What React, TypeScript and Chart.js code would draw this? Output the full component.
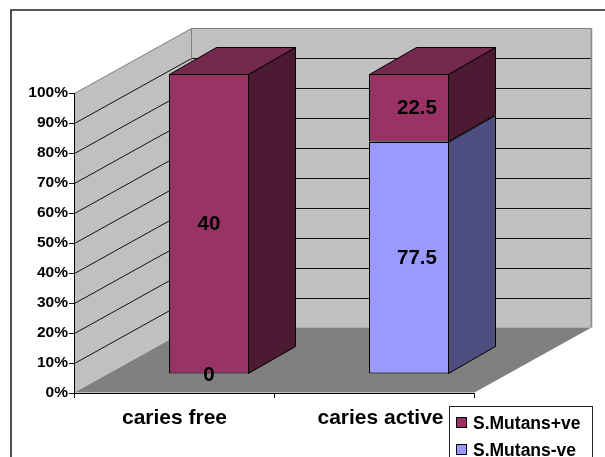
import React, { useEffect, useRef } from "react";
import { Chart, registerables } from "chart.js";

Chart.register(...registerables);

const categories = ["caries free", "caries active"];
const mutansPositive = [40, 22.5];
const mutansNegative = [0, 77.5];
const percentTicks = [0, 10, 20, 30, 40, 50, 60, 70, 80, 90, 100];

const FONT = '"Liberation Sans", Arial, sans-serif';
const INK = "#000000";

// Stacked shares per category, as in a 100% stacked column chart.
const shareOf = (part: number[], other: number[]) =>
  part.map((v, i) => (v / (v + other[i])) * 100);

// Projection of the pseudo-3D box.
const WALL = { dx: 117, dy: -65 };
const BAR_PLANE = { dx: 35, dy: -19 };
const BAR_DEPTH = { dx: 47, dy: -27 };
const CATEGORY_LABEL_SHIFT = [0, 6];
const VALUE_LABEL_SHIFT = [0, 8];

const poly = (
  ctx: CanvasRenderingContext2D,
  pts: number[][],
  fill: string | null,
  stroke: string | null,
  width = 1
) => {
  ctx.beginPath();
  pts.forEach(([x, y], i) => (i ? ctx.lineTo(x, y) : ctx.moveTo(x, y)));
  ctx.closePath();
  if (fill) {
    ctx.fillStyle = fill;
    ctx.fill();
  }
  if (stroke) {
    ctx.strokeStyle = stroke;
    ctx.lineWidth = width;
    ctx.stroke();
  }
};

const segment = (
  ctx: CanvasRenderingContext2D,
  x1: number,
  y1: number,
  x2: number,
  y2: number,
  color: string,
  width = 1
) => {
  ctx.beginPath();
  ctx.moveTo(x1, y1);
  ctx.lineTo(x2, y2);
  ctx.strokeStyle = color;
  ctx.lineWidth = width;
  ctx.stroke();
};

const box3d = {
  id: "box3d",
  beforeDraw(chart: any) {
    const { ctx, chartArea: a, scales } = chart;
    const L = a.left + 0.5;
    const R = a.right + 0.5;
    const T = a.top + 0.5;
    const B = a.bottom - 0.5;
    const bx = L + WALL.dx;
    const rx = R + WALL.dx;
    ctx.save();
    ctx.fillStyle = "#ffffff";
    ctx.fillRect(0, 0, chart.width, chart.height);

    // Frame of the chart object; it runs off the right and bottom edges.
    ctx.beginPath();
    ctx.moveTo(11, chart.height);
    ctx.lineTo(11, 10);
    ctx.lineTo(chart.width, 10);
    ctx.strokeStyle = "#222222";
    ctx.lineWidth = 1.6;
    ctx.stroke();

    // Side wall, back wall and floor.
    poly(ctx, [[L, T], [bx, T + WALL.dy], [bx, B + WALL.dy], [L, B]], "#c0c0c0", null);
    poly(ctx, [[bx, T + WALL.dy], [rx, T + WALL.dy], [rx, B + WALL.dy], [bx, B + WALL.dy]], "#c0c0c0", null);
    poly(ctx, [[L, B], [R, B], [rx, B + WALL.dy], [bx, B + WALL.dy]], "#808080", null);

    // Gridlines folded across both walls.
    percentTicks.forEach((t) => {
      if (t === 0 || t === 100) return;
      const y = Math.round(scales.y.getPixelForValue(t)) + 0.5;
      segment(ctx, L, y, bx, y + WALL.dy, "#111111");
      segment(ctx, bx, y + WALL.dy, rx, y + WALL.dy, "#111111");
    });

    // Wall outlines.
    ctx.beginPath();
    ctx.moveTo(L, T);
    ctx.lineTo(bx, T + WALL.dy);
    ctx.lineTo(rx, T + WALL.dy);
    ctx.strokeStyle = "#808080";
    ctx.lineWidth = 1;
    ctx.stroke();
    segment(ctx, rx, T + WALL.dy, rx, B + WALL.dy, "#8c8c8c", 1.6);
    segment(ctx, bx, T + WALL.dy, bx, B + WALL.dy, "#808080");
    ctx.restore();
  },
  beforeDatasetsDraw(chart: any) {
    chart.ctx.save();
    chart.ctx.translate(BAR_PLANE.dx, BAR_PLANE.dy);
  },
  afterDatasetsDraw(chart: any) {
    const { ctx, data } = chart;
    const shades = [
      { side: "#4d4d80", top: "#73739f" },
      { side: "#4d1a33", top: "#73284d" },
    ];
    const tops: any[] = [];
    data.datasets.forEach((_: any, d: number) => {
      chart.getDatasetMeta(d).data.forEach((bar: any, i: number) => {
        const { x, y, base, width } = bar.getProps(["x", "y", "base", "width"], true);
        if (Math.abs(base - y) < 0.5) return;
        const xr = x + width / 2 - 0.5;
        const xl = x - width / 2 + 0.5;
        const yt = Math.round(y) + 0.5;
        const yb = Math.round(base) - 0.5;
        poly(
          ctx,
          [
            [xr, yt],
            [xr + BAR_DEPTH.dx, yt + BAR_DEPTH.dy],
            [xr + BAR_DEPTH.dx, yb + BAR_DEPTH.dy],
            [xr, yb],
          ],
          shades[d].side,
          INK
        );
        // Crisp seam between stacked segments on the front face.
        segment(ctx, xl, yt, xr, yt, INK);
        tops[i] = { xl, xr, yt, shade: shades[d].top };
      });
    });
    tops.forEach(({ xl, xr, yt, shade }) =>
      poly(
        ctx,
        [
          [xl, yt],
          [xr, yt],
          [xr + BAR_DEPTH.dx, yt + BAR_DEPTH.dy],
          [xl + BAR_DEPTH.dx, yt + BAR_DEPTH.dy],
        ],
        shade,
        INK
      )
    );

    // Value labels sit on the bar fronts and state the original counts.
    ctx.fillStyle = INK;
    ctx.font = `bold 20.5px ${FONT}`;
    ctx.textAlign = "center";
    ctx.textBaseline = "middle";
    data.datasets.forEach((ds: any, d: number) => {
      chart.getDatasetMeta(d).data.forEach((bar: any, i: number) => {
        const { x, y, base } = bar.getProps(["x", "y", "base"], true);
        ctx.fillText(String(ds.counts[i]), x + VALUE_LABEL_SHIFT[i], (y + base) / 2 + 1);
      });
    });
    ctx.restore();
  },
  afterDraw(chart: any) {
    const { ctx, data, scales } = chart;
    ctx.save();

    // Category names under the floor.
    ctx.fillStyle = INK;
    ctx.font = `bold 21px ${FONT}`;
    ctx.textAlign = "center";
    ctx.textBaseline = "middle";
    categories.forEach((c, i) => {
      ctx.fillText(c, scales.x.getPixelForValue(i) + CATEGORY_LABEL_SHIFT[i] + 0.5, 418);
    });

    // Legend box, clipped by the bottom edge of the page.
    ctx.fillStyle = "#ffffff";
    ctx.fillRect(450, 407, 142, 60);
    ctx.strokeStyle = "#222222";
    ctx.lineWidth = 1;
    ctx.strokeRect(449.5, 406.5, 143, 60);
    [...data.datasets].reverse().forEach((ds: any, i: number) => {
      const top = 417 + i * 27;
      ctx.fillStyle = ds.backgroundColor;
      ctx.fillRect(456, top, 11, 11);
      ctx.strokeStyle = INK;
      ctx.strokeRect(456.5, top + 0.5, 10, 10);
      ctx.fillStyle = INK;
      ctx.font = `bold 17.5px ${FONT}`;
      ctx.textAlign = "left";
      ctx.textBaseline = "middle";
      ctx.fillText(ds.label, 473, top + 7.5);
    });
    ctx.restore();
  },
};

export default function App() {
  const ref = useRef<HTMLCanvasElement>(null);

  useEffect(() => {
    document.body.style.margin = "0";
    document.body.style.overflow = "hidden";
    const chart = new Chart(ref.current as HTMLCanvasElement, {
      type: "bar",
      data: {
        labels: categories,
        datasets: [
          {
            label: "S.Mutans-ve",
            counts: mutansNegative,
            data: shareOf(mutansNegative, mutansPositive),
            backgroundColor: "#9999ff",
            borderColor: INK,
            borderWidth: 1,
            borderSkipped: false,
            clip: false,
          } as any,
          {
            label: "S.Mutans+ve",
            counts: mutansPositive,
            data: shareOf(mutansPositive, mutansNegative),
            backgroundColor: "#993366",
            borderColor: INK,
            borderWidth: 1,
            borderSkipped: false,
            clip: false,
          } as any,
        ],
      },
      options: {
        responsive: false,
        animation: false,
        layout: { padding: { left: 0, right: 131, top: 93, bottom: 0 } },
        plugins: { legend: { display: false }, title: { display: false }, tooltip: { enabled: false } },
        datasets: { bar: { categoryPercentage: 1, barPercentage: 0.4 } },
        scales: {
          x: {
            stacked: true,
            afterFit: (s: any) => {
              s.height = 64;
            },
            grid: {
              offset: true,
              drawOnChartArea: false,
              drawTicks: true,
              tickLength: 5,
              color: "#111111",
            },
            border: { color: "#000000", width: 1 },
            ticks: { display: false },
          },
          y: {
            stacked: true,
            min: 0,
            max: 100,
            afterFit: (s: any) => {
              s.width = 74;
            },
            afterBuildTicks: (s: any) => {
              s.ticks = percentTicks.map((value) => ({ value }));
            },
            grid: { drawOnChartArea: false, drawTicks: true, tickLength: 5, color: "#111111" },
            border: { color: "#000000", width: 1 },
            ticks: {
              padding: 1,
              color: INK,
              font: { family: FONT, weight: "bold", size: 15.5 },
              callback: (v: any) => `${v}%`,
            },
          },
        },
      },
      plugins: [box3d],
    } as any);
    return () => chart.destroy();
  }, []);

  return <canvas ref={ref} width={605} height={457} style={{ display: "block" }} />;
}
